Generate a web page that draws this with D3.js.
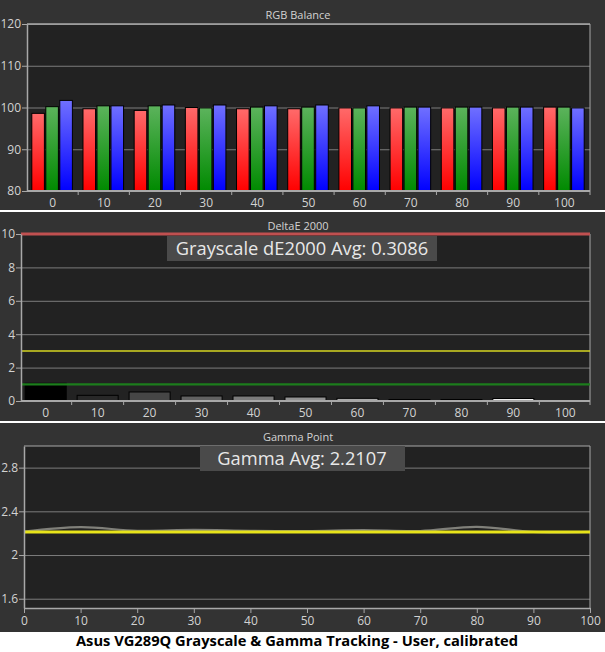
<!DOCTYPE html>
<html><head><meta charset="utf-8">
<script src="https://cdn.jsdelivr.net/npm/d3@7"></script>
<style>
body{margin:0;background:#fff}
svg{display:block}
text{font-family:"Open Sans","Noto Sans",sans-serif}
</style>
</head><body>
<svg id="c" width="605" height="652"></svg>
<script>
// ---------- data ----------
const levels = [0,10,20,30,40,50,60,70,80,90,100];
const levelLabels = ["0","10","20","30","40","50","60","70","80","90","100"];
const channels = ["R","G","B"];
const redVals   = [98.6, 99.7, 99.3, 100.0, 99.7, 99.7, 99.9, 99.9, 99.9, 99.9, 100.1];
const greenVals = [100.2,100.4,100.4, 99.9,100.1,100.1, 99.9,100.1,100.1,100.1,100.1];
const blueVals  = [101.7,100.4,100.6,100.6,100.4,100.6,100.4,100.1,100.1,100.1, 99.9];
const rgbTicks = [80,90,100,110,120];
const deltaE = [1.06,0.34,0.54,0.30,0.30,0.24,0.16,0.09,0.09,0.15,0.01];
const deTicks = [0,2,4,6,8,10];
const deLimits = [10,3,1];
const gammaMeasured = [2.215,2.255,2.222,2.23,2.222,2.22,2.228,2.22,2.258,2.212,2.212];
const gammaTarget = 2.21;
const gammaTicks = [1.6,2,2.4,2.8];
const gammaTickLabels = ["1.6","2","2.4","2.8"];
const titles = ["RGB Balance","DeltaE 2000","Gamma Point"];
const deAvgLabel = "Grayscale dE2000 Avg: 0.3086";
const gammaAvgLabel = "Gamma Avg: 2.2107";
const caption = "Asus VG289Q Grayscale & Gamma Tracking - User, calibrated";

// ---------- styling / layout ----------
const svg = d3.select("#c");
const OUTER = "#333333", PLOT = "#222222", GRID = "#7c7c7c", AXIS = "#a8a8a8", TXT = "#d2d2d2";
const titleX = 298;

function panelBg(y0, y1) {
  svg.append("rect").attr("x",0).attr("y",y0).attr("width",605).attr("height",y1-y0).attr("fill",OUTER);
}
function styleAxis(g, color, fs) {
  g.selectAll("path").attr("stroke", color).attr("stroke-width",1.5);
  g.selectAll("line").attr("stroke", color);
  g.selectAll("text").attr("fill", TXT).style("font-size", fs+"px").style("font-family",'"Open Sans","Noto Sans",sans-serif');
}
function grid(g, scale, ticks, x0, width) {
  const gg = g.append("g").attr("transform",`translate(${x0},0)`)
    .call(d3.axisLeft(scale).tickValues(ticks).tickSize(-width).tickFormat(""));
  gg.select(".domain").remove();
  gg.selectAll("line").attr("stroke", GRID).attr("stroke-width",1);
}

panelBg(0,210);
panelBg(212,421);
panelBg(423,632);

// ---------- Panel 1: RGB Balance ----------
{
  const L=27, R=590, T=24, B=191;
  svg.append("rect").attr("x",L).attr("y",T).attr("width",R-L).attr("height",B-T).attr("fill",PLOT);
  const y = d3.scaleLinear().domain([80,120]).range([B,T]);
  const x = d3.scaleBand().domain(levels).range([L,R]).padding(0);
  const sub = d3.scaleBand().domain(channels).range([4.8, x.bandwidth()-5.8]).paddingInner(0.1);
  const g = svg.append("g");
  grid(g, y, [90,100,110,120], L, R-L);
  g.append("line").attr("x1",L).attr("x2",R).attr("y1",T).attr("y2",T).attr("stroke",AXIS).attr("stroke-width",1.5);
  g.append("line").attr("x1",R).attr("x2",R).attr("y1",T).attr("y2",B).attr("stroke",AXIS).attr("stroke-width",1);

  const defs = svg.append("defs");
  const grads = {R:["#ff6a6a","#ff0000"], G:["#5cb35c","#008a00"], B:["#7070ff","#0000ff"]};
  channels.forEach(c => {
    const lg = defs.append("linearGradient").attr("id","grad"+c).attr("x1",0).attr("y1",0).attr("x2",0).attr("y2",1);
    lg.append("stop").attr("offset","0%").attr("stop-color",grads[c][0]);
    lg.append("stop").attr("offset","100%").attr("stop-color",grads[c][1]);
  });
  const series = {R:redVals, G:greenVals, B:blueVals};
  const rows = [];
  levels.forEach((lv,i)=>channels.forEach(c=>rows.push({lv, c, v:series[c][i]})));
  g.selectAll("rect.bar").data(rows).join("rect").attr("class","bar")
    .attr("x", d => x(d.lv) + sub(d.c))
    .attr("width", sub.bandwidth())
    .attr("y", d => y(d.v))
    .attr("height", d => B - y(d.v))
    .attr("fill", d => `url(#grad${d.c})`)
    .attr("stroke","#000").attr("stroke-width",1);

  const ya = g.append("g").attr("transform",`translate(${L},0)`)
    .call(d3.axisLeft(y).tickValues(rgbTicks).tickSize(5).tickSizeOuter(0).tickPadding(1));
  styleAxis(ya, AXIS, 12);
  g.append("line").attr("x1",L).attr("x2",R).attr("y1",B).attr("y2",B).attr("stroke",AXIS).attr("stroke-width",2);
  const xa = g.append("g").attr("transform",`translate(0,${B})`)
    .call(d3.axisBottom(x).tickSize(0).tickPadding(7).tickFormat((d,i)=>levelLabels[i]));
  xa.select(".domain").remove();
  styleAxis(xa, AXIS, 12);
  g.selectAll("line.bt").data(levels.slice(1).concat(["end"])).join("line").attr("class","bt")
    .attr("x1",(d,i)=> i<levels.length-1 ? x(d) : R).attr("x2",(d,i)=> i<levels.length-1 ? x(d) : R)
    .attr("y1",B).attr("y2",B+4).attr("stroke",AXIS);
  svg.append("text").attr("x",titleX).attr("y",19).attr("text-anchor","middle")
    .attr("fill",TXT).style("font-size","11px").text(titles[0]);
}

// ---------- Panel 2: DeltaE 2000 ----------
{
  const L=21, R=590, T=234, B=401;
  svg.append("rect").attr("x",L).attr("y",T).attr("width",R-L).attr("height",B-T).attr("fill",PLOT);
  const y = d3.scaleLinear().domain([0,10]).range([B,T]);
  const x = d3.scaleBand().domain(levels).range([L,R]).paddingInner(0.21).paddingOuter(0.08);
  const g = svg.append("g");
  grid(g, y, [2,4,6,8], L, R-L);
  g.append("line").attr("x1",R).attr("x2",R).attr("y1",T).attr("y2",B).attr("stroke",AXIS).attr("stroke-width",1);
  g.selectAll("rect.bar").data(levels).join("rect").attr("class","bar")
    .attr("x", d => x(d)).attr("width", x.bandwidth())
    .attr("y", (d,i) => y(deltaE[i])).attr("height", (d,i) => B - y(deltaE[i]))
    .attr("fill", d => { const v = Math.round(255*Math.pow(d/100,0.8)); return d3.rgb(v,v,v); })
    .attr("stroke","#000").attr("stroke-width",1);
  const limStyle = [{c:"#c05050",w:3},{c:"#d6d622",w:1.5},{c:"#1c7d1c",w:2.2}];
  g.selectAll("line.lim").data(deLimits).join("line").attr("class","lim")
    .attr("x1",L).attr("x2",R).attr("y1",d=>y(d)).attr("y2",d=>y(d))
    .attr("stroke",(d,i)=>limStyle[i].c).attr("stroke-width",(d,i)=>limStyle[i].w);
  const ya = g.append("g").attr("transform",`translate(${L},0)`)
    .call(d3.axisLeft(y).tickValues(deTicks).tickSize(5).tickSizeOuter(0).tickPadding(1));
  styleAxis(ya, AXIS, 12);
  g.append("line").attr("x1",L).attr("x2",R).attr("y1",B).attr("y2",B).attr("stroke",AXIS).attr("stroke-width",2);
  const xa = g.append("g").attr("transform",`translate(0,${B})`)
    .call(d3.axisBottom(x).tickSize(0).tickPadding(7).tickFormat((d,i)=>levelLabels[i]));
  xa.select(".domain").remove();
  styleAxis(xa, AXIS, 12);
  const gap = x.step()*x.paddingInner();
  g.selectAll("line.bt").data(levels).join("line").attr("class","bt")
    .attr("x1",d=> Math.min(x(d)+x.bandwidth()+gap/2, R)).attr("x2",d=> Math.min(x(d)+x.bandwidth()+gap/2, R))
    .attr("y1",B).attr("y2",B+4).attr("stroke",AXIS);
  svg.append("text").attr("x",titleX).attr("y",229.5).attr("text-anchor","middle")
    .attr("fill",TXT).style("font-size","11px").text(titles[1]);
  svg.append("rect").attr("x",167).attr("y",236).attr("width",270).attr("height",25).attr("fill","#4a4a4a");
  svg.append("text").attr("x",302).attr("y",255).attr("text-anchor","middle")
    .attr("fill","#e8e8e8").style("font-size","18.3px").text(deAvgLabel);
}

// ---------- Panel 3: Gamma Point ----------
{
  const L=24, R=590, T=446, B=608;
  svg.append("rect").attr("x",L).attr("y",T).attr("width",R-L).attr("height",B-T).attr("fill",PLOT);
  const y = d3.scaleLinear().domain([1.515,2.998]).range([B,T]);
  const x = d3.scaleLinear().domain([0,100]).range([L,R]);
  const g = svg.append("g");
  grid(g, y, gammaTicks, L, R-L);
  g.append("line").attr("x1",L).attr("x2",R).attr("y1",T).attr("y2",T).attr("stroke",AXIS).attr("stroke-width",1);
  g.append("line").attr("x1",R).attr("x2",R).attr("y1",T).attr("y2",B).attr("stroke",AXIS).attr("stroke-width",1);
  const line = d3.line().x((d,i)=>x(levels[i])).y(d=>y(d)).curve(d3.curveCatmullRom.alpha(0.5));
  g.append("path").datum(gammaMeasured).attr("d",line).attr("fill","none")
    .attr("stroke","#80807a").attr("stroke-width",2.2);
  g.append("path").datum(levels.map(()=>gammaTarget)).attr("d",line).attr("fill","none")
    .attr("stroke","#e8e41a").attr("stroke-width",3);
  const ya = g.append("g").attr("transform",`translate(${L},0)`)
    .call(d3.axisLeft(y).tickValues(gammaTicks).tickSize(5).tickSizeOuter(0).tickPadding(1)
      .tickFormat((d,i)=>gammaTickLabels[i]));
  styleAxis(ya, AXIS, 12);
  const xa = g.append("g").attr("transform",`translate(0,${B})`)
    .call(d3.axisBottom(x).tickValues(levels).tickSize(5).tickSizeOuter(0).tickPadding(3)
      .tickFormat((d,i)=>levelLabels[i]));
  styleAxis(xa, AXIS, 12);
  svg.append("text").attr("x",titleX).attr("y",441).attr("text-anchor","middle")
    .attr("fill",TXT).style("font-size","11px").text(titles[2]);
  svg.append("rect").attr("x",200).attr("y",446).attr("width",205).attr("height",25).attr("fill","#4a4a4a");
  svg.append("text").attr("x",302).attr("y",465).attr("text-anchor","middle")
    .attr("fill","#e8e8e8").style("font-size","18.3px").text(gammaAvgLabel);
}

// ---------- caption ----------
svg.append("text").attr("x",297).attr("y",646).attr("text-anchor","middle")
  .attr("fill","#000").style("font-size","14.7px").style("font-weight","bold").text(caption);
</script>
</body></html>
